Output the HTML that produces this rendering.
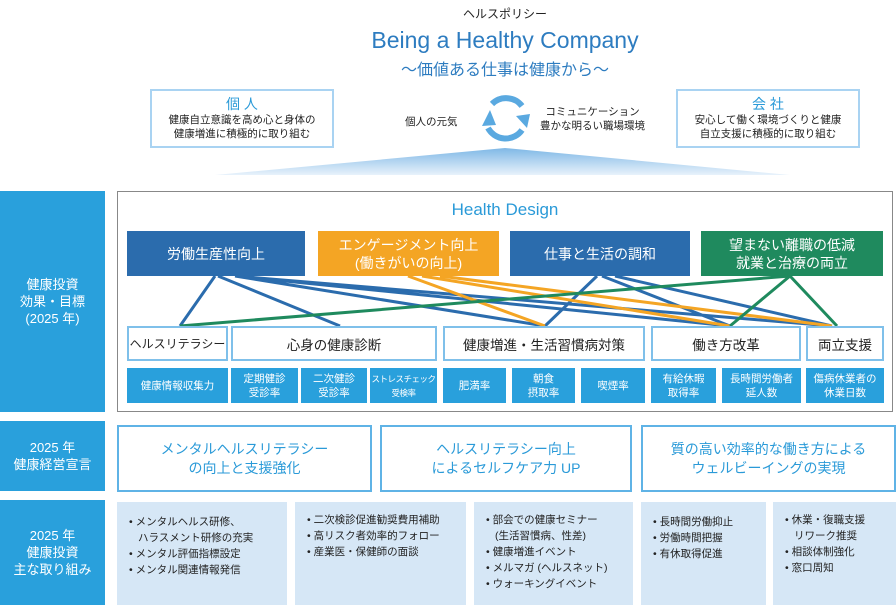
<!DOCTYPE html>
<html><head><meta charset="utf-8"><style>
body{margin:0;width:896px;height:605px;background:#fff;position:relative;overflow:hidden;font-family:"Liberation Sans","Noto Sans CJK JP",sans-serif;color:#222}
.a{position:absolute;box-sizing:border-box}
.c{display:flex;align-items:center;justify-content:center;text-align:center}
.side{background:#29a0dc;color:#fff;font-size:13px;line-height:17px}
.top{color:#fff;font-size:14px;line-height:18px}
.lvl{border:2px solid #7fc0ea;background:#fff;font-size:13.5px}
.m{background:#29a0dc;color:#fff;font-size:10.5px;line-height:14px}
.dec{border:2px solid #5fb3e6;background:#fff;color:#2a9ad8;font-size:14px;line-height:19px}
.it{background:#d6e7f6;font-size:10.5px;line-height:16px;padding:12px 0 0 12px}
.it div{padding-left:9px;text-indent:-9px}
</style></head><body>
<div class="a" style="left:0;top:5px;width:1010px;text-align:center;font-size:12px">ヘルスポリシー</div>
<div class="a" style="left:0;top:27px;width:1010px;text-align:center;font-size:23px;color:#2d7cc0">Being a Healthy Company</div>
<div class="a" style="left:0;top:56px;width:1010px;text-align:center;font-size:16px;color:#2d7cc0">～価値ある仕事は健康から～</div>
<div class="a" style="left:150px;top:89px;width:184px;height:59px;border:2px solid #a9d3f2;text-align:center;font-size:10.5px;line-height:14px;padding-top:4px"><div style="color:#2a9ad8;font-size:14px;line-height:18px">個 人</div>健康自立意識を高め心と身体の<br>健康増進に積極的に取り組む</div>
<div class="a" style="left:676px;top:89px;width:184px;height:59px;border:2px solid #a9d3f2;text-align:center;font-size:10.5px;line-height:14px;padding-top:4px"><div style="color:#2a9ad8;font-size:14px;line-height:18px">会 社</div>安心して働く環境づくりと健康<br>自立支援に積極的に取り組む</div>
<div class="a" style="left:405px;top:114px;font-size:10.5px">個人の元気</div>
<div class="a" style="left:540px;top:105px;font-size:10.5px;line-height:14px;text-align:center">コミュニケーション<br>豊かな明るい職場環境</div>
<svg class="a" style="left:0;top:0" width="896" height="605">
<defs><linearGradient id="g" x1="0" y1="0" x2="0" y2="1"><stop offset="0" stop-color="#7fb8e6"/><stop offset="1" stop-color="#e8f2fb"/></linearGradient></defs>
<polygon points="505,148 215,175 790,175" fill="url(#g)"/>
<path d="M492,104 A20,20 0 0 1 522,106" stroke="#5aa9e0" stroke-width="6" fill="none"/>
<path d="M522,130 A20,20 0 0 1 488,128" stroke="#5aa9e0" stroke-width="6" fill="none"/>
<polygon points="513,100 527,98 524,112" fill="#5aa9e0" transform="translate(3,16)"/>
<polygon points="483,114 491,98 497,113" fill="#5aa9e0" transform="translate(-1,12)"/>
</svg>
<div class="a" style="left:117px;top:191px;width:776px;height:221px;border:1px solid #888"></div>
<div class="a" style="left:117px;top:200px;width:776px;text-align:center;font-size:17px;color:#2a9ad8">Health Design</div>
<div class="a side c" style="left:0;top:191px;width:105px;height:221px">健康投資<br>効果・目標<br>(2025 年)</div>
<div class="a side c" style="left:0;top:421px;width:105px;height:70px">2025 年<br>健康経営宣言</div>
<div class="a side c" style="left:0;top:500px;width:105px;height:105px">2025 年<br>健康投資<br>主な取り組み</div>
<div class="a top c" style="left:127px;top:231px;width:178px;height:45px;background:#2b6cad">労働生産性向上</div>
<div class="a top c" style="left:318px;top:231px;width:181px;height:45px;background:#f4a524">エンゲージメント向上<br>(働きがいの向上)</div>
<div class="a top c" style="left:510px;top:231px;width:180px;height:45px;background:#2b6cad">仕事と生活の調和</div>
<div class="a top c" style="left:701px;top:231px;width:182px;height:45px;background:#1f8a5e">望まない離職の低減<br>就業と治療の両立</div>
<svg class="a" style="left:0;top:0" width="896" height="605" fill="none" stroke-width="3">
<g stroke="#2b6cad"><path d="M215,276L180,326M218,276L340,326M235,276L545,326M235,276L730,326M235,276L832,326M597,276L545,326M602,276L730,326M615,276L832,326"/></g>
<g stroke="#f4a524"><path d="M408,276L545,326M422,276L730,326M440,276L832,326"/></g>
<g stroke="#1f8a5e"><path d="M790,276L180,326M790,276L730,326M790,276L837,326"/></g>
</svg>
<div class="a lvl c" style="left:127px;top:326px;width:101px;height:35px;font-size:12px;white-space:nowrap">ヘルスリテラシー</div>
<div class="a lvl c" style="left:231px;top:326px;width:206px;height:35px">心身の健康診断</div>
<div class="a lvl c" style="left:443px;top:326px;width:202px;height:35px">健康増進・生活習慣病対策</div>
<div class="a lvl c" style="left:651px;top:326px;width:150px;height:35px">働き方改革</div>
<div class="a lvl c" style="left:806px;top:326px;width:78px;height:35px">両立支援</div>
<div class="a m c" style="left:127px;top:368px;width:101px;height:35px">健康情報収集力</div>
<div class="a m c" style="left:231px;top:368px;width:67px;height:35px">定期健診<br>受診率</div>
<div class="a m c" style="left:301px;top:368px;width:66px;height:35px">二次健診<br>受診率</div>
<div class="a m c" style="left:370px;top:368px;width:67px;height:35px;font-size:8.5px;letter-spacing:-0.5px;white-space:nowrap">ストレスチェック<br>受検率</div>
<div class="a m c" style="left:443px;top:368px;width:63px;height:35px">肥満率</div>
<div class="a m c" style="left:512px;top:368px;width:63px;height:35px">朝食<br>摂取率</div>
<div class="a m c" style="left:581px;top:368px;width:64px;height:35px">喫煙率</div>
<div class="a m c" style="left:651px;top:368px;width:65px;height:35px">有給休暇<br>取得率</div>
<div class="a m c" style="left:722px;top:368px;width:79px;height:35px">長時間労働者<br>延人数</div>
<div class="a m c" style="left:806px;top:368px;width:78px;height:35px">傷病休業者の<br>休業日数</div>
<div class="a dec c" style="left:117px;top:425px;width:255px;height:67px">メンタルヘルスリテラシー<br>の向上と支援強化</div>
<div class="a dec c" style="left:380px;top:425px;width:252px;height:67px">ヘルスリテラシー向上<br>によるセルフケア力 UP</div>
<div class="a dec c" style="left:641px;top:425px;width:255px;height:67px">質の高い効率的な働き方による<br>ウェルビーイングの実現</div>
<div class="a it" style="left:117px;top:502px;width:170px;height:103px"><div>• メンタルヘルス研修、<br>ハラスメント研修の充実</div><div>• メンタル評価指標設定</div><div>• メンタル関連情報発信</div></div>
<div class="a it" style="left:295px;top:502px;width:171px;height:103px;padding-top:10px"><div>• 二次検診促進勧奨費用補助</div><div>• 高リスク者効率的フォロー</div><div>• 産業医・保健師の面談</div></div>
<div class="a it" style="left:474px;top:502px;width:159px;height:103px;padding-top:10px"><div>• 部会での健康セミナー<br>(生活習慣病、性差)</div><div>• 健康増進イベント</div><div>• メルマガ (ヘルスネット)</div><div>• ウォーキングイベント</div></div>
<div class="a it" style="left:641px;top:502px;width:125px;height:103px"><div>• 長時間労働抑止</div><div>• 労働時間把握</div><div>• 有休取得促進</div></div>
<div class="a it" style="left:773px;top:502px;width:123px;height:103px;padding-top:10px"><div>• 休業・復職支援<br>リワーク推奨</div><div>• 相談体制強化</div><div>• 窓口周知</div></div>
</body></html>
